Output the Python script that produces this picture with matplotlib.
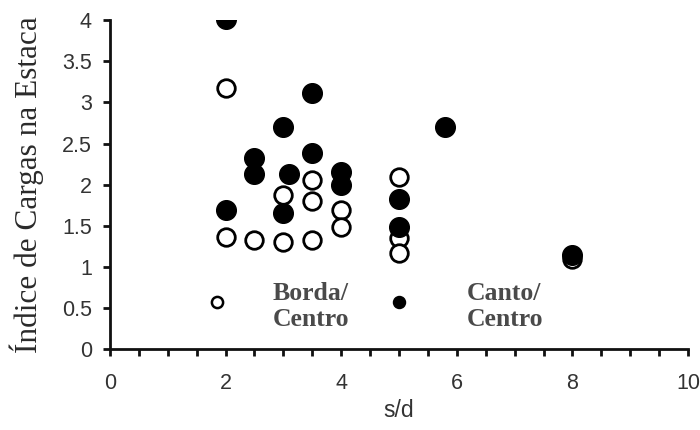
import matplotlib.pyplot as plt
from matplotlib.ticker import MultipleLocator

# borda/centro (open) and canto/centro (filled) load ratios vs spacing
borda_sd = [2, 2, 2.5, 3, 3.5, 3, 3.5, 3.5, 4, 4, 5, 5, 5, 8]
borda_idx = [3.17, 1.36, 1.33, 1.30, 1.33, 1.87, 2.06, 1.80, 1.69, 1.48, 2.09, 1.35, 1.17, 1.10]
borda_small_sd = [1.85]
borda_small_idx = [0.57]

canto_sd = [2, 3.5, 3, 5.8, 3.5, 2.5, 2.5, 3.1, 4, 4, 5, 5, 2, 3, 8]
canto_idx = [4.02, 3.11, 2.70, 2.70, 2.38, 2.32, 2.13, 2.13, 2.15, 2.00, 1.82, 1.48, 1.69, 1.65, 1.15]
canto_small_sd = [5]
canto_small_idx = [0.57]

yticks = [0, 0.5, 1, 1.5, 2, 2.5, 3, 3.5, 4]
ytick_labels = ['0', '0.5', '1', '1.5', '2', '2.5', '3', '3.5', '4']

fig = plt.figure(figsize=(7, 4.3), dpi=100)
ax = fig.add_axes([0.157, 0.188, 0.826, 0.765])

ax.scatter(borda_sd, borda_idx, s=160, facecolor='white', edgecolor='black', linewidth=2.0, zorder=3)
ax.scatter(borda_small_sd, borda_small_idx, s=65, facecolor='white', edgecolor='black', linewidth=1.8, zorder=3)
ax.scatter(canto_sd, canto_idx, s=200, facecolor='black', edgecolor='black', linewidth=1, zorder=4)
ax.scatter(canto_small_sd, canto_small_idx, s=75, facecolor='black', edgecolor='black', zorder=4)

ax.set_xlim(0, 10)
ax.xaxis.set_major_locator(MultipleLocator(2))
ax.xaxis.set_minor_locator(MultipleLocator(0.5))
ax.set_yticks(yticks)
ax.set_yticklabels(ytick_labels)
ax.set_ylim(0, 4)

for side in ['top', 'right']:
    ax.spines[side].set_visible(False)
for side in ['left', 'bottom']:
    ax.spines[side].set_linewidth(2)
    ax.spines[side].set_color('#111111')

ax.tick_params(axis='both', which='both', direction='out', length=5, width=2, color='#111111')
ax.tick_params(axis='x', pad=12)
ax.tick_params(axis='y', pad=8)
for lab in ax.get_xticklabels() + ax.get_yticklabels():
    lab.set_family('Liberation Sans')
    lab.set_fontsize(15.5)
    lab.set_color('#333333')

ax.set_xlabel('s/d', family='Liberation Sans', fontsize=16.5, color='#333333', labelpad=4)
ax.set_ylabel('Índice de Cargas na Estaca', family='Liberation Serif', fontsize=22.5,
              color='#2a2a2a', labelpad=13)

ax.text(2.82, 0.82, 'Borda/\nCentro', family='Liberation Serif', fontweight='bold',
        fontsize=18.5, color='#4a4a4a', va='top', linespacing=1.2)
ax.text(6.18, 0.82, 'Canto/\nCentro', family='Liberation Serif', fontweight='bold',
        fontsize=18.5, color='#4a4a4a', va='top', linespacing=1.2)

fig.savefig('out.png', dpi=100)
